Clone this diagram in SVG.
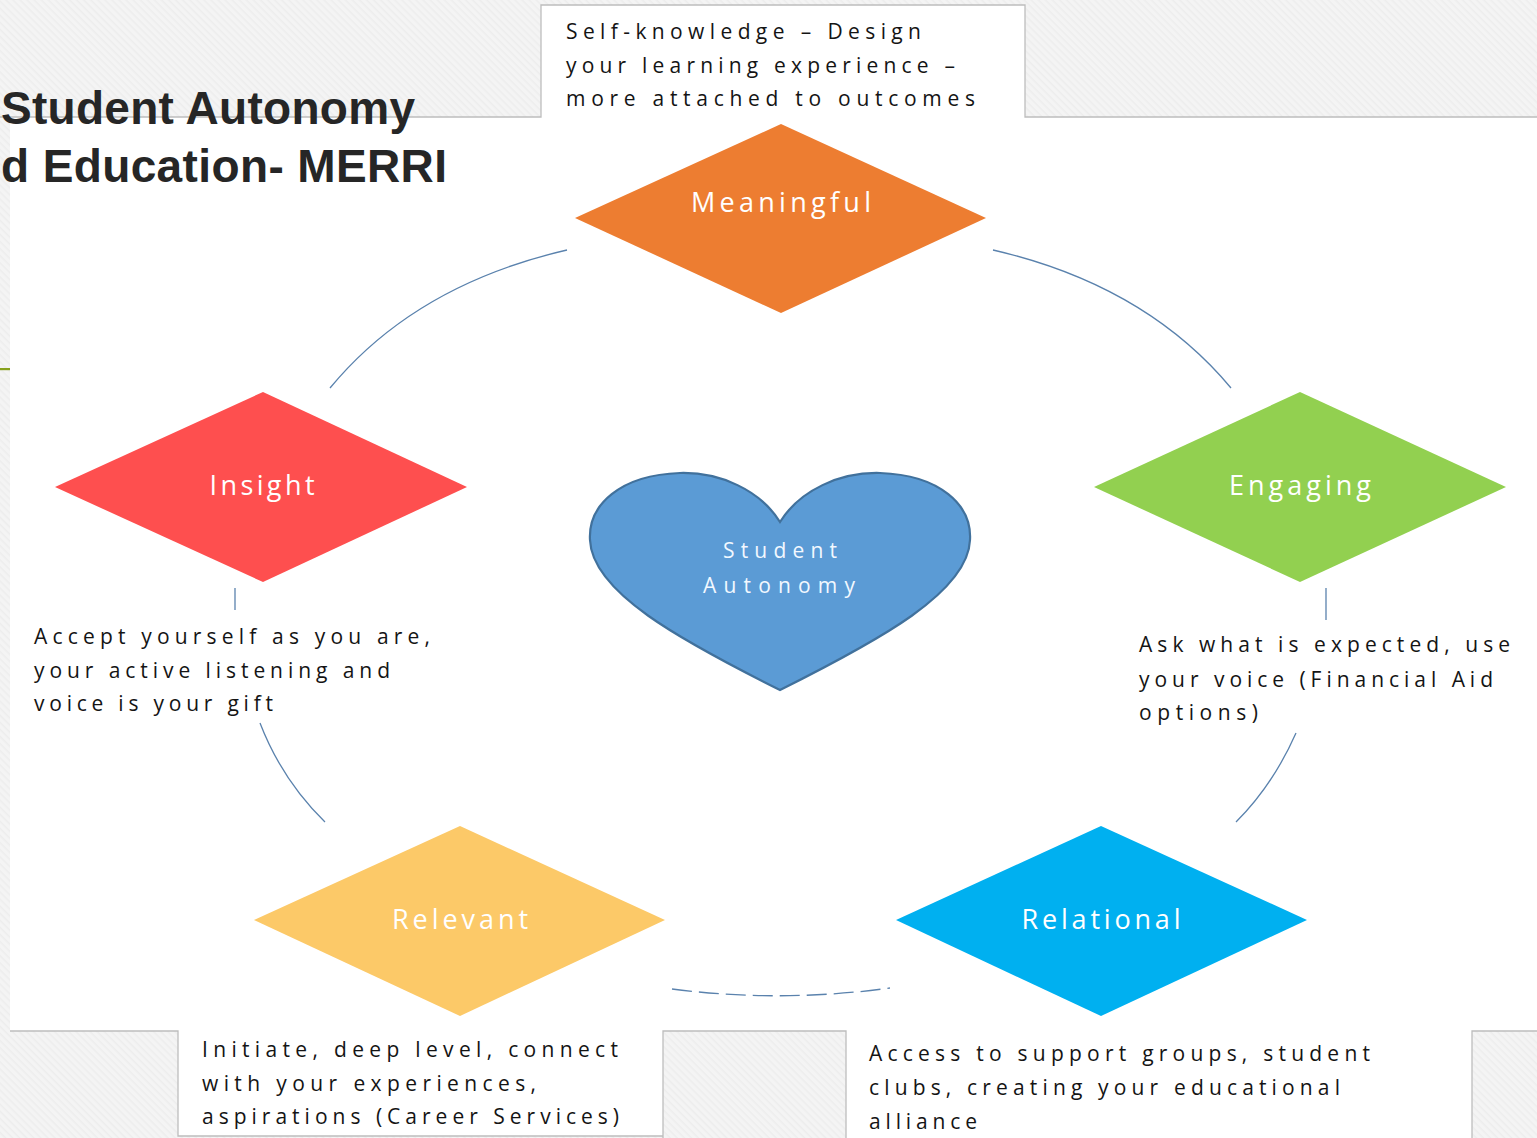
<svg xmlns="http://www.w3.org/2000/svg" width="1537" height="1138" viewBox="0 0 1537 1138">
  <defs>
    <pattern id="tex" width="5" height="5" patternUnits="userSpaceOnUse" patternTransform="rotate(45)">
      <rect width="5" height="5" fill="#f4f4f4"/>
      <rect width="5" height="1.5" fill="#ededed"/>
    </pattern>
    <style>
      .frame { fill: none; stroke: #bdbdbd; stroke-width: 1.3; }
      .label { font-family: "Open Sans", "Liberation Sans", sans-serif; font-size: 27px; fill: #ffffff; text-anchor: middle; }
      .desc { font-family: "Open Sans", "Liberation Sans", sans-serif; font-size: 21px; fill: #141414; }
      .title { font-family: "Liberation Sans", Arial, sans-serif; font-weight: bold; font-size: 46px; fill: #262626; }
      .conn { fill: none; stroke: #5a82ad; stroke-width: 1.3; }
      .heart-text { font-family: "Open Sans", "Liberation Sans", sans-serif; font-size: 21px; fill: #f2f8ff; text-anchor: middle; }
    </style>
  </defs>

  <!-- background -->
  <rect x="0" y="0" width="1537" height="1138" fill="url(#tex)"/>
  <rect x="10" y="117" width="1527" height="914" fill="#ffffff"/>
  <rect x="541" y="5" width="484" height="112" fill="#ffffff"/>
  <rect x="178" y="1031" width="485" height="105" fill="#ffffff"/>
  <rect x="846" y="1031" width="626" height="107" fill="#ffffff"/>

  <!-- frame lines -->
  <g id="frames">
    <polyline class="frame" points="0,117 541,117 541,5 1025,5 1025,117 1537,117"/>
    <polyline class="frame" points="10,1031 178,1031 178,1136 663,1136"/>
    <polyline class="frame" points="663,1138 663,1031 846,1031 846,1138"/>
    <polyline class="frame" points="1472,1138 1472,1031 1537,1031"/>
    <rect x="0" y="368" width="10" height="2.2" fill="#86a01c"/>
  </g>

  <!-- title -->
  <g id="title">
    <text class="title" x="1" y="124" textLength="414">Student Autonomy</text>
    <text class="title" x="1" y="182" textLength="446">d Education- MERRI</text>
  </g>

  <!-- connectors -->
  <g id="connectors">
    <path class="conn" d="M 330 388 Q 415 285 567 250"/>
    <path class="conn" d="M 993 250 Q 1145 285 1231 388"/>
    <path class="conn" d="M 235 588 L 235 610"/>
    <path class="conn" d="M 1326 588 L 1326 620"/>
    <path class="conn" d="M 260 723 Q 282 780 325 822"/>
    <path class="conn" d="M 1296 733 Q 1273 785 1236 822"/>
    <path class="conn" d="M 672 989 Q 781 1003 890 988" stroke-dasharray="20 7"/>
  </g>

  <!-- top description -->
  <g id="desc-meaningful">
    <text class="desc" x="566" y="39" textLength="355">Self-knowledge – Design</text>
    <text class="desc" x="566" y="73" textLength="389">your learning experience –</text>
    <text class="desc" x="566" y="106" textLength="409">more attached to outcomes</text>
  </g>

  <g id="node-meaningful">
    <polygon points="781,124 986,218 781,313 575,218" fill="#ed7d31"/>
    <text class="label" x="781" y="212" textLength="180">Meaningful</text>
  </g>

  <g id="node-insight">
    <polygon points="263,392 467,487 263,582 55,487" fill="#fe4f4f"/>
    <text class="label" x="262" y="495" textLength="105">Insight</text>
  </g>

  <g id="node-engaging">
    <polygon points="1300,392 1506,487 1300,582 1094,487" fill="#92d050"/>
    <text class="label" x="1300" y="495" textLength="142">Engaging</text>
  </g>

  <g id="node-relevant">
    <polygon points="460,826 665,920 460,1016 254,920" fill="#fcc968"/>
    <text class="label" x="460" y="929" textLength="136">Relevant</text>
  </g>

  <g id="node-relational">
    <polygon points="1101,826 1307,920 1101,1016 896,920" fill="#00b0f0"/>
    <text class="label" x="1101" y="929" textLength="159">Relational</text>
  </g>

  <g id="node-heart">
    <path d="M 780 522 C 800 490 840 472 880 473 C 940 475 972 505 970 540 C 968 592 880 640 780 690 C 680 640 592 592 590 540 C 588 505 620 475 680 473 C 720 472 760 490 780 522 Z" fill="#5b9bd5" stroke="#41719c" stroke-width="2.2"/>
    <text class="heart-text" x="780" y="558" textLength="114">Student</text>
    <text class="heart-text" x="779" y="593" textLength="152">Autonomy</text>
  </g>

  <g id="desc-insight">
    <text class="desc" x="34" y="644" textLength="396">Accept yourself as you are,</text>
    <text class="desc" x="34" y="678" textLength="356">your active listening and</text>
    <text class="desc" x="34" y="711" textLength="239">voice is your gift</text>
  </g>

  <g id="desc-engaging">
    <text class="desc" x="1139" y="652" textLength="371">Ask what is expected, use</text>
    <text class="desc" x="1139" y="687" textLength="354">your voice (Financial Aid</text>
    <text class="desc" x="1139" y="720" textLength="119">options)</text>
  </g>

  <g id="desc-relevant">
    <text class="desc" x="202" y="1057" textLength="416">Initiate,  deep level, connect</text>
    <text class="desc" x="202" y="1091" textLength="334">with your experiences,</text>
    <text class="desc" x="202" y="1124" textLength="417">aspirations (Career Services)</text>
  </g>

  <g id="desc-relational">
    <text class="desc" x="869" y="1061" textLength="501">Access to support groups, student</text>
    <text class="desc" x="869" y="1095" textLength="471">clubs, creating your educational</text>
    <text class="desc" x="869" y="1129" textLength="108">alliance</text>
  </g>
</svg>
